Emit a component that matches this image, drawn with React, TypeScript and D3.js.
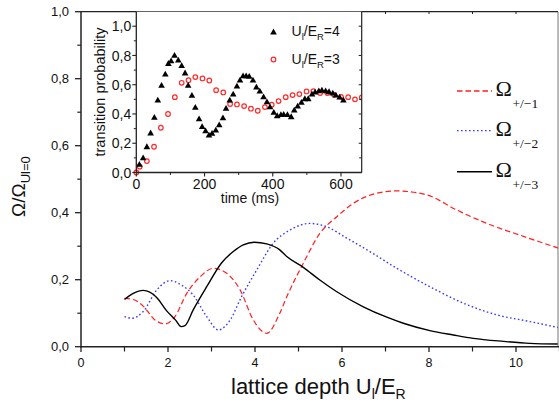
import React from 'react';
import * as d3 from 'd3';

// ---------- main plot data ----------
const omega3U = [1.0, 1.2, 1.43, 1.74, 1.97, 2.17, 2.3, 2.39, 2.58, 2.89, 3.23, 3.5, 3.73, 3.98, 4.27, 4.57, 4.73, 5.11, 5.49, 5.88, 6.49, 7.03, 7.41, 8.02, 8.56, 9.02, 9.71, 10.32, 10.98];
const omega3V = [0.141, 0.159, 0.168, 0.147, 0.107, 0.08, 0.06, 0.063, 0.11, 0.179, 0.25, 0.284, 0.304, 0.312, 0.307, 0.289, 0.269, 0.237, 0.199, 0.164, 0.119, 0.088, 0.07, 0.048, 0.035, 0.025, 0.016, 0.01, 0.008];

const omega1U = [1.0, 1.2, 1.43, 1.7, 1.93, 2.16, 2.43, 2.74, 3.04, 3.35, 3.66, 3.96, 4.27, 4.57, 4.73, 5.11, 5.49, 5.88, 6.26, 6.8, 7.26, 7.95, 8.64, 9.33, 10.09, 10.98];
const omega1V = [0.144, 0.141, 0.121, 0.08, 0.068, 0.09, 0.159, 0.209, 0.234, 0.219, 0.169, 0.08, 0.04, 0.10, 0.149, 0.249, 0.338, 0.388, 0.428, 0.458, 0.465, 0.453, 0.408, 0.368, 0.333, 0.294];

const omega2U = [1.0, 1.17, 1.43, 1.74, 2.05, 2.31, 2.58, 2.89, 3.16, 3.43, 3.69, 4.04, 4.42, 4.8, 5.26, 5.65, 6.11, 6.64, 7.26, 8.02, 8.79, 9.56, 10.32, 10.98];
const omega2V = [0.09, 0.085, 0.105, 0.169, 0.197, 0.184, 0.154, 0.09, 0.05, 0.08, 0.149, 0.229, 0.309, 0.348, 0.368, 0.358, 0.324, 0.284, 0.234, 0.179, 0.13, 0.095, 0.075, 0.057];

const mainXMajor = [0, 2, 4, 6, 8, 10];
const mainXMinor = [1, 3, 5, 7, 9, 11];
const mainYMajor = [0, 0.2, 0.4, 0.6, 0.8, 1.0];
const mainYMinor = [0.1, 0.3, 0.5, 0.7, 0.9];

// ---------- inset data ----------
const triT = [9, 20, 31, 42, 53, 63, 74, 85, 94, 102, 112, 123, 133, 143, 152, 163, 173, 184, 193, 203, 213, 222, 233, 243, 254, 263, 274, 284, 295, 304, 313, 322, 331, 342, 352, 362, 373, 383, 392, 403, 413, 424, 432, 443, 454, 463, 473, 484, 494, 504, 515, 524, 535, 544, 555, 565, 576, 585, 596, 607];
const triP = [0.056, 0.10, 0.176, 0.27, 0.377, 0.495, 0.595, 0.672, 0.745, 0.763, 0.80, 0.768, 0.73, 0.68, 0.595, 0.527, 0.445, 0.367, 0.313, 0.285, 0.256, 0.268, 0.29, 0.326, 0.374, 0.438, 0.495, 0.536, 0.59, 0.631, 0.66, 0.66, 0.657, 0.631, 0.584, 0.556, 0.517, 0.483, 0.449, 0.411, 0.388, 0.395, 0.397, 0.395, 0.381, 0.427, 0.454, 0.479, 0.504, 0.504, 0.536, 0.55, 0.558, 0.563, 0.558, 0.552, 0.543, 0.529, 0.515, 0.495];

const circT = [0, 10, 31, 52, 72, 93, 113, 133, 153, 173, 194, 214, 234, 255, 275, 295, 316, 336, 356, 377, 397, 417, 438, 458, 478, 499, 519, 539, 560, 580, 600, 621, 641, 661];
const circP = [0.0, 0.04, 0.078, 0.176, 0.306, 0.40, 0.515, 0.613, 0.631, 0.652, 0.643, 0.629, 0.563, 0.547, 0.468, 0.465, 0.454, 0.436, 0.422, 0.447, 0.463, 0.488, 0.515, 0.529, 0.536, 0.554, 0.556, 0.543, 0.543, 0.531, 0.517, 0.515, 0.50, 0.513];

const insetXMajor = [0, 200, 400, 600];
const insetXMinor = [100, 300, 500];
const insetYMajor = [0, 0.2, 0.4, 0.6, 0.8, 1.0];
const insetYMinor = [0.1, 0.3, 0.5, 0.7, 0.9];

const legendItems = [
  { label: '+/\u22121', color: '#ff2020', dash: '5.5,3' },
  { label: '+/\u22122', color: '#3a3aff', dash: '1.6,2.4' },
  { label: '+/\u22123', color: '#000000', dash: '' },
];

const fmt = (v: number) => d3.format('.1f')(v).replace('.', ',');

export default function App() {
  const x = d3.scaleLinear().domain([0, 11]).range([81, 559.5]);
  const y = d3.scaleLinear().domain([0, 1]).range([346.7, 11.7]);
  const ix = d3.scaleLinear().domain([0, 600]).range([136.3, 341]);
  const iy = d3.scaleLinear().domain([0, 1]).range([172.5, 26.2]);

  const line = d3
    .line<[number, number]>()
    .x((d) => x(d[0]))
    .y((d) => y(d[1]))
    .curve(d3.curveMonotoneX);

  const s1 = line(omega1U.map((u, i) => [u, omega1V[i]]) as [number, number][]) || '';
  const s2 = line(omega2U.map((u, i) => [u, omega2V[i]]) as [number, number][]) || '';
  const s3 = line(omega3U.map((u, i) => [u, omega3V[i]]) as [number, number][]) || '';

  const axisColor = '#222';
  const sans = "'Liberation Sans', Arial, sans-serif";
  const serif = "'Liberation Serif', 'DejaVu Serif', serif";

  const ix0 = 136.3;
  const ix1 = 361.7;
  const iy0 = 172.5;
  const iy1 = 11.7;

  const tri = (cx: number, cy: number) =>
    `M${cx},${cy - 3.4}L${cx + 3.3},${cy + 2.4}L${cx - 3.3},${cy + 2.4}Z`;

  return (
    <svg
      width={559}
      height={409}
      style={{ position: 'absolute', left: 0, top: 0, display: 'block', background: '#fff' }}
      fontFamily={sans}
    >
      <rect x={0} y={0} width={559} height={409} fill="#fff" />
      <defs>
        <clipPath id="mainclip">
          <rect x={81} y={11.7} width={477} height={335} />
        </clipPath>
        <clipPath id="insetclip">
          <rect x={ix0 - 4} y={iy1} width={ix1 - ix0 + 4} height={iy0 - iy1 + 4} />
        </clipPath>
      </defs>

      {/* main curves */}
      <g clipPath="url(#mainclip)">
        <path d={s1} fill="none" stroke="#ff2020" strokeWidth={1.2} strokeDasharray="5.5,3" />
        <path d={s2} fill="none" stroke="#3a3aff" strokeWidth={1.4} strokeDasharray="1.6,2.4" />
        <path d={s3} fill="none" stroke="#000" strokeWidth={1.4} />
      </g>

      {/* main frame */}
      <line x1={81} x2={558} y1={11.7} y2={11.7} stroke={axisColor} strokeWidth={1.3} />
      <line x1={558} x2={558} y1={11.7} y2={346.7} stroke="#777" strokeWidth={1} />
      <line x1={81} x2={81} y1={11.7} y2={347.4} stroke={axisColor} strokeWidth={1.5} />
      <line x1={80.3} x2={559} y1={346.7} y2={346.7} stroke={axisColor} strokeWidth={1.5} />

      {/* main left ticks */}
      {mainYMajor.map((v) => (
        <g key={'ym' + v}>
          <line x1={75} x2={81} y1={y(v)} y2={y(v)} stroke={axisColor} strokeWidth={1.3} />
          <text x={69} y={y(v)} dy="0.35em" textAnchor="end" fontSize={13} fill="#111">
            {fmt(v)}
          </text>
        </g>
      ))}
      {mainYMinor.map((v) => (
        <line key={'yn' + v} x1={77.3} x2={81} y1={y(v)} y2={y(v)} stroke={axisColor} strokeWidth={1.2} />
      ))}
      {/* main bottom ticks */}
      {mainXMajor.map((v) => (
        <g key={'xm' + v}>
          <line x1={x(v)} x2={x(v)} y1={346.7} y2={352} stroke={axisColor} strokeWidth={1.3} />
          <text x={x(v)} y={367} textAnchor="middle" fontSize={12.5} fill="#111">
            {v}
          </text>
        </g>
      ))}
      {mainXMinor.map((v) => (
        <line key={'xn' + v} x1={x(v)} x2={x(v)} y1={346.7} y2={351.5} stroke={axisColor} strokeWidth={1.2} />
      ))}
      {/* top ticks (inward) */}
      {[...mainXMajor, ...mainXMinor]
        .filter((v) => x(v) > ix1 + 2 && x(v) < 557)
        .map((v) => (
          <line key={'xt' + v} x1={x(v)} x2={x(v)} y1={11.7} y2={14} stroke={axisColor} strokeWidth={1} />
        ))}

      {/* main axis labels */}
      <text x={231} y={394} fontSize={22} fill="#111">
        lattice depth U
        <tspan fontSize={14} dy={5}>l</tspan>
        <tspan fontSize={22} dy={-5}>/E</tspan>
        <tspan fontSize={14} dy={5}>R</tspan>
      </text>
      <text transform="translate(25,217) rotate(-90)" fontSize={19} fill="#111">
        Ω/Ω
        <tspan fontSize={13} dy={5}>Ul=0</tspan>
      </text>

      {/* legend */}
      {legendItems.map((it, i) => {
        const ly = [91, 130.7, 171.7][i];
        return (
          <g key={it.label}>
            <line
              x1={457}
              x2={492}
              y1={ly}
              y2={ly}
              stroke={it.color}
              strokeWidth={it.dash === '' ? 1.4 : 1.3}
              strokeDasharray={it.dash || undefined}
            />
            <text x={495.5} y={ly + 5} fontFamily={serif} fontSize={22} fill="#111">
              Ω
            </text>
            <text x={512.5} y={ly + 17} fontFamily={serif} fontSize={13.5} fill="#111">
              {it.label}
            </text>
          </g>
        );
      })}

      {/* inset */}
      <rect x={ix0} y={iy1} width={ix1 - ix0} height={iy0 - iy1} fill="#fff" />
      <g clipPath="url(#insetclip)">
        {circT.map((t, i) => (
          <circle key={'c' + i} cx={ix(t)} cy={iy(circP[i])} r={2.3} fill="none" stroke="#ff2a2a" strokeWidth={1.2} />
        ))}
        {triT.map((t, i) => (
          <path key={'t' + i} d={tri(ix(t), iy(triP[i]))} fill="#000" />
        ))}
      </g>
      <line x1={ix0} x2={ix0} y1={iy1} y2={iy0 + 0.5} stroke={axisColor} strokeWidth={1.3} />
      <line x1={ix0} x2={ix1} y1={iy0} y2={iy0} stroke={axisColor} strokeWidth={1.3} />
      <line x1={ix1} x2={ix1} y1={iy1} y2={iy0} stroke={axisColor} strokeWidth={1.2} />
      {insetYMajor.map((v) => (
        <g key={'iym' + v}>
          <line x1={ix0 - 4} x2={ix0} y1={iy(v)} y2={iy(v)} stroke={axisColor} strokeWidth={1.1} />
          <line x1={ix1 - 3} x2={ix1} y1={iy(v)} y2={iy(v)} stroke={axisColor} strokeWidth={1} />
          <text x={ix0 - 5} y={iy(v)} dy="0.36em" textAnchor="end" fontSize={14} fill="#111">
            {fmt(v)}
          </text>
        </g>
      ))}
      {insetYMinor.map((v) => (
        <g key={'iyn' + v}>
          <line x1={ix0 - 2.5} x2={ix0} y1={iy(v)} y2={iy(v)} stroke={axisColor} strokeWidth={1} />
          <line x1={ix1 - 2.5} x2={ix1} y1={iy(v)} y2={iy(v)} stroke={axisColor} strokeWidth={1} />
        </g>
      ))}
      {insetXMajor.map((v) => (
        <g key={'ixm' + v}>
          <line x1={ix(v)} x2={ix(v)} y1={iy0} y2={iy0 + 4} stroke={axisColor} strokeWidth={1.1} />
          <text x={ix(v)} y={189} textAnchor="middle" fontSize={14} fill="#111">
            {v}
          </text>
        </g>
      ))}
      {insetXMinor.map((v) => (
        <line key={'ixn' + v} x1={ix(v)} x2={ix(v)} y1={iy0} y2={iy0 + 2.5} stroke={axisColor} strokeWidth={1} />
      ))}
      <text x={250} y={203} textAnchor="middle" fontSize={14} fill="#111">
        time (ms)
      </text>
      <text transform="translate(105,92) rotate(-90)" textAnchor="middle" fontSize={14.5} fill="#111">
        transition probability
      </text>

      {/* inset legend */}
      <path d={tri(273.5, 32)} fill="#000" />
      <text x={291.5} y={35.5} fontSize={14} fill="#111">
        U<tspan fontSize={9.5} dy={4}>l</tspan>
        <tspan fontSize={14} dy={-4}>/E</tspan>
        <tspan fontSize={9.5} dy={4}>R</tspan>
        <tspan fontSize={14} dy={-4}>=4</tspan>
      </text>
      <circle cx={273.5} cy={59.5} r={2.3} fill="none" stroke="#ff2a2a" strokeWidth={1.2} />
      <text x={291.5} y={63.5} fontSize={14} fill="#111">
        U<tspan fontSize={9.5} dy={4}>l</tspan>
        <tspan fontSize={14} dy={-4}>/E</tspan>
        <tspan fontSize={9.5} dy={4}>R</tspan>
        <tspan fontSize={14} dy={-4}>=3</tspan>
      </text>
    </svg>
  );
}
